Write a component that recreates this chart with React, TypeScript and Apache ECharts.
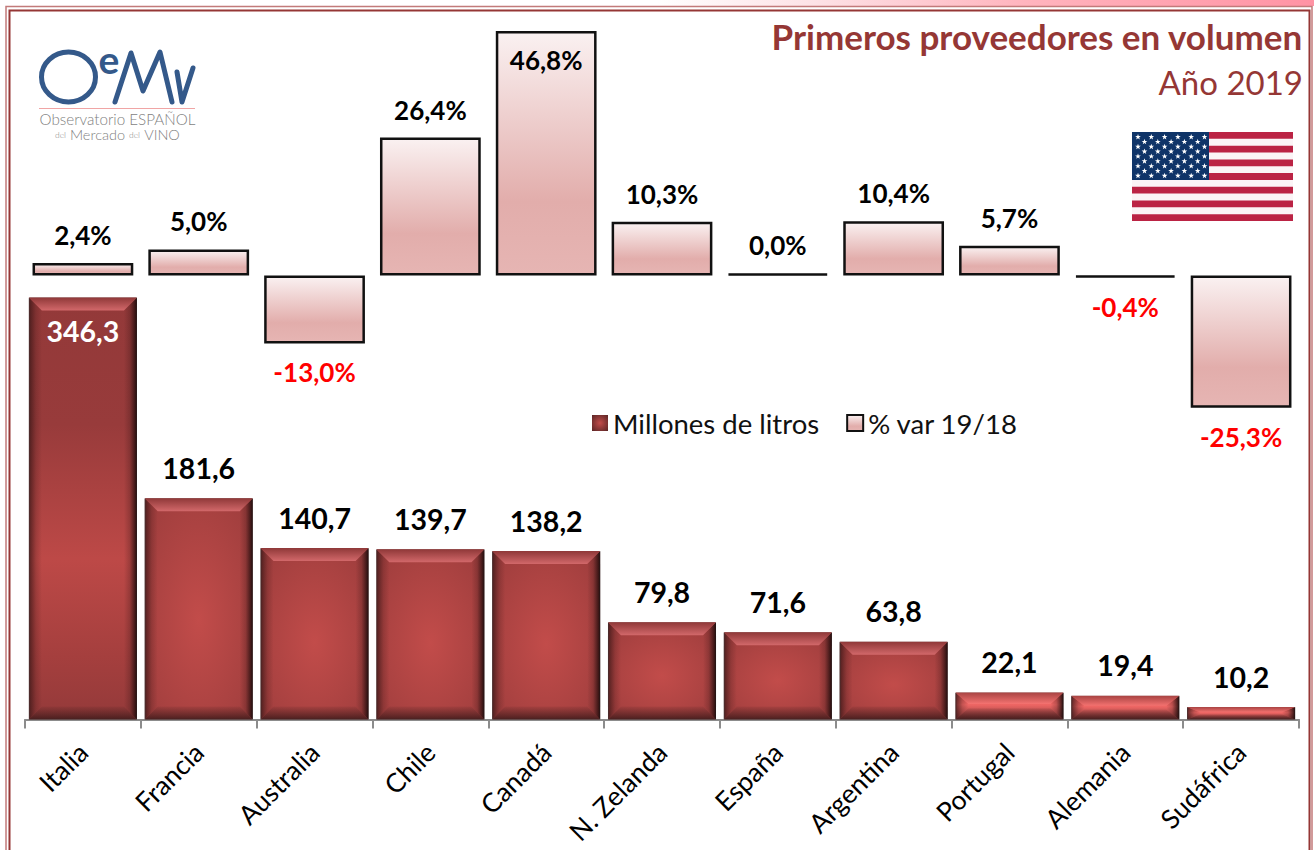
import React, { useEffect, useRef } from "react";
import * as echarts from "echarts";

const categories = ["Italia", "Francia", "Australia", "Chile", "Canadá", "N. Zelanda", "España", "Argentina", "Portugal", "Alemania", "Sudáfrica"];
const litros = [346.3, 181.6, 140.7, 139.7, 138.2, 79.8, 71.6, 63.8, 22.1, 19.4, 10.2];
const variacion = [2.4, 5.0, -13.0, 26.4, 46.8, 10.3, 0.0, 10.4, 5.7, -0.4, -25.3];
const seriesNames = ["Millones de litros", "% var 19/18"];
const titleMain = "Primeros proveedores en volumen";
const titleSub = "Año 2019";

const FONT = "Lato";
const WINE = "#953735";
const fmt = (v: number) => v.toFixed(1).replace(".", ",");
const vGrad = (stops: [number, string][]) =>
  new echarts.graphic.LinearGradient(0, 0, 0, 1, stops.map(([offset, color]) => ({ offset, color })));
const hGrad = (stops: [number, string][]) =>
  new echarts.graphic.LinearGradient(0, 0, 1, 0, stops.map(([offset, color]) => ({ offset, color })));

function baseFill(v: number) {
  if (v > 300)
    return vGrad([[0, "#933939"], [0.3, "#983b3b"], [0.62, "#bd4947"], [0.85, "#a53f3e"], [1, "#943a3a"]]);
  if (v < 30)
    return vGrad([[0, "#c24c4a"], [0.45, "#ee6664"], [1, "#8c3a3a"]]);
  return new echarts.graphic.RadialGradient(0.5, 0.55, 0.85, [
    { offset: 0, color: "#c24c4a" },
    { offset: 1, color: "#963a3a" },
  ]);
}

function renderBevel(params: any, api: any) {
  const top = api.coord([api.value(0), api.value(1)]);
  const bottom = api.coord([api.value(0), 0]);
  const w = api.size([1, 0])[0] * 0.933;
  const x0 = top[0] - w / 2;
  const x1 = top[0] + w / 2;
  const y0 = top[1];
  const y1 = bottom[1];
  const h = y1 - y0;
  const short = h < 30;
  const d = Math.min(13, h * 0.42);
  const dx = 13;
  const poly = (points: number[][], fill: any) => ({ type: "polygon", shape: { points }, style: { fill }, silent: true });
  return {
    type: "group",
    children: [
      poly([[x0, y1], [x1, y1], [x1 - dx, y1 - d], [x0 + dx, y1 - d]],
        vGrad([[0, "rgba(75,32,32,0.1)"], [1, "rgba(65,27,27,0.9)"]])),
      poly([[x0, y0], [x0 + dx, y0 + d], [x0 + dx, y1 - d], [x0, y1]],
        hGrad([[0, "rgba(50,20,20,0.75)"], [0.55, "rgba(60,22,22,0.22)"], [1, "rgba(60,22,22,0)"]])),
      poly([[x1, y0], [x1 - dx, y0 + d], [x1 - dx, y1 - d], [x1, y1]],
        hGrad([[0, "rgba(40,15,15,0)"], [0.45, "rgba(40,15,15,0.22)"], [1, "rgba(28,10,10,0.95)"]])),
      poly([[x0, y0], [x1, y0], [x1 - dx, y0 + d], [x0 + dx, y0 + d]],
        vGrad(short ? [[0, "#a94443"], [1, "#f47270"]] : [[0, "#8f3838"], [1, "#d2686a"]])),
    ],
  };
}

const star = (cx: number, cy: number, r: number) => {
  const points: number[][] = [];
  for (let i = 0; i < 10; i++) {
    const a = -Math.PI / 2 + (i * Math.PI) / 5;
    const rr = i % 2 ? r * 0.4 : r;
    points.push([cx + rr * Math.cos(a), cy + rr * Math.sin(a)]);
  }
  return { type: "polygon", shape: { points }, style: { fill: "#fff" } };
};

function flag() {
  const X = 1132, Y = 132, W = 161, H = 89;
  const sh = H / 13;
  const children: any[] = [{ type: "rect", shape: { x: X, y: Y, width: W, height: H }, style: { fill: "#fbf4f6" } }];
  for (let i = 0; i < 13; i += 2)
    children.push({ type: "rect", shape: { x: X, y: Y + i * sh, width: W, height: sh }, style: { fill: "#bb2344" } });
  children.push({ type: "rect", shape: { x: X, y: Y, width: 77, height: sh * 7 }, style: { fill: "#0f3468" } });
  for (let row = 0; row < 9; row++) {
    const n = row % 2 ? 5 : 6;
    for (let c = 0; c < n; c++)
      children.push(star(X + (row % 2 ? 12.5 : 6) + c * 13.3, Y + 5 + row * 4.85, 3));
  }
  return { type: "group", children };
}

function logo() {
  const blue = "#34598a";
  const line = { stroke: blue, lineWidth: 5, lineCap: "round", lineJoin: "round", fill: "none" };
  const txt = (x: number, y: number, text: string, size: number) => ({
    type: "text", x, y,
    style: { text, font: `300 ${size}px ${FONT}`, fill: "#7f7f7f", align: "center", verticalAlign: "middle" },
  });
  return {
    type: "group",
    children: [
      { type: "ellipse", shape: { cx: 68.5, cy: 77, rx: 27, ry: 25 }, style: { fill: "none", stroke: blue, lineWidth: 5 } },
      { type: "text", x: 109, y: 59, style: { text: "e", font: `bold 39px ${FONT}`, fill: blue, align: "center", verticalAlign: "middle" } },
      { type: "polyline", shape: { points: [[115, 102], [131, 53], [143, 91], [160, 52], [172, 102]] }, style: line },
      { type: "polyline", shape: { points: [[177, 72], [182, 102], [193, 68]] }, style: line },
      { type: "line", shape: { x1: 39, y1: 108.5, x2: 195, y2: 108.5 }, style: { stroke: "#f0a5a5", lineWidth: 1 } },
      txt(117.5, 119, "Observatorio ESPAÑOL", 15.2),
      txt(60.5, 135, "del", 8.5),
      txt(97.5, 134, "Mercado", 14.5),
      txt(134.5, 135, "del", 8.5),
      txt(162, 134, "VINO", 14.5),
    ],
  };
}

function frame() {
  return {
    type: "group",
    silent: true,
    children: [
      { type: "rect", z: -1, shape: { x: 0, y: 0, width: 1314, height: 6 },
        style: { fill: hGrad([[0, "#ffffff"], [0.5, "#ffffff"], [0.62, "#fde2e6"], [0.78, "#ffb4be"], [1, "#ff93a4"]]) } },
      { type: "rect", shape: { x: 6, y: 6.5, width: 1306, height: 860 }, style: { fill: "none", stroke: "#c27a7a", lineWidth: 1.5 } },
      { type: "rect", shape: { x: 9.5, y: 10.5, width: 1300, height: 860 }, style: { fill: "none", stroke: WINE, lineWidth: 2 } },
    ],
  };
}

export default function App() {
  const ref = useRef<HTMLDivElement>(null);
  useEffect(() => {
    document.body.style.margin = "0";
    const chart = echarts.init(ref.current!, undefined, { renderer: "svg" });
    const barLabel = { show: true, fontFamily: FONT, fontWeight: "bold", color: "#000" };
    const pctFill = vGrad([[0, "#faf1f1"], [0.7, "#e2adab"], [1, "#e6b5b3"]]);
    chart.setOption({
      animation: false,
      backgroundColor: "#fff",
      title: [
        { text: titleMain, right: 6, top: 13, textStyle: { fontFamily: FONT, fontWeight: "bold", fontSize: 35, color: WINE } },
        { text: titleSub, right: 6, top: 60, textStyle: { fontFamily: FONT, fontWeight: "normal", fontSize: 33, color: WINE } },
      ],
      legend: {
        left: 587, top: 404, itemWidth: 16, itemHeight: 16, itemGap: 27, selectedMode: false,
        textStyle: { fontFamily: FONT, fontSize: 27.5, color: "#111" },
        data: [
          { name: seriesNames[0], icon: "rect", itemStyle: { color: new echarts.graphic.RadialGradient(0.5, 0.5, 0.7, [{ offset: 0, color: "#c24c4a" }, { offset: 1, color: "#5a2525" }]) } },
          { name: seriesNames[1], icon: "rect" },
        ],
      },
      grid: [
        { left: 25, right: 15, top: 232, bottom: 130.5 },
        { left: 25, right: 15, top: 14.3, height: 418 },
      ],
      xAxis: [
        {
          type: "category", gridIndex: 0, data: categories,
          axisLine: { lineStyle: { color: "#8c8c8c", width: 2 } },
          axisTick: { show: true, alignWithLabel: false, length: 9, lineStyle: { color: "#8c8c8c", width: 2 } },
          axisLabel: { rotate: 45, interval: 0, margin: 28, fontFamily: FONT, fontSize: 26.5, color: "#000" },
        },
        { type: "category", gridIndex: 1, data: categories, show: false },
      ],
      yAxis: [
        { type: "value", gridIndex: 0, min: 0, max: 400, show: false },
        { type: "value", gridIndex: 1, min: -30, max: 50, show: false },
      ],
      series: [
        {
          type: "bar", name: seriesNames[0], xAxisIndex: 0, yAxisIndex: 0, barCategoryGap: "6.7%", z: 2,
          itemStyle: { color: "#a53f3e" },
          label: { ...barLabel, position: "top", distance: 16, fontSize: 28.5, formatter: (p: any) => fmt(p.value) },
          data: litros.map((v) => ({
            value: v,
            itemStyle: { color: baseFill(v), borderColor: "rgba(110,80,80,0.75)", borderWidth: 1 },
            ...(v > 300 ? { label: { position: "insideTop", distance: 19, color: "#fff" } } : {}),
          })),
        },
        {
          type: "custom", name: "bisel", xAxisIndex: 0, yAxisIndex: 0, z: 3, silent: true,
          renderItem: renderBevel,
          encode: { x: 0, y: 1 },
          data: litros.map((v, i) => [i, v]),
        },
        {
          type: "bar", name: seriesNames[1], xAxisIndex: 1, yAxisIndex: 1, barCategoryGap: "13%", barMinHeight: 2, z: 2,
          itemStyle: { color: pctFill, borderColor: "#111", borderWidth: 2.5 },
          label: { ...barLabel, fontSize: 26, formatter: (p: any) => fmt(p.value) + "%" },
          data: variacion.map((v) => ({
            value: v,
            label: v < 0
              ? { position: "bottom", distance: 16, color: "#ff0000" }
              : v > 40
                ? { position: "insideTop", distance: 16, color: "#000" }
                : { position: "top", distance: 15, color: "#000" },
          })),
        },
      ],
      graphic: { elements: [frame(), logo(), flag()] },
    });
    return () => chart.dispose();
  }, []);
  return <div ref={ref} style={{ position: "absolute", left: 0, top: 0, width: 1314, height: 850 }} />;
}
